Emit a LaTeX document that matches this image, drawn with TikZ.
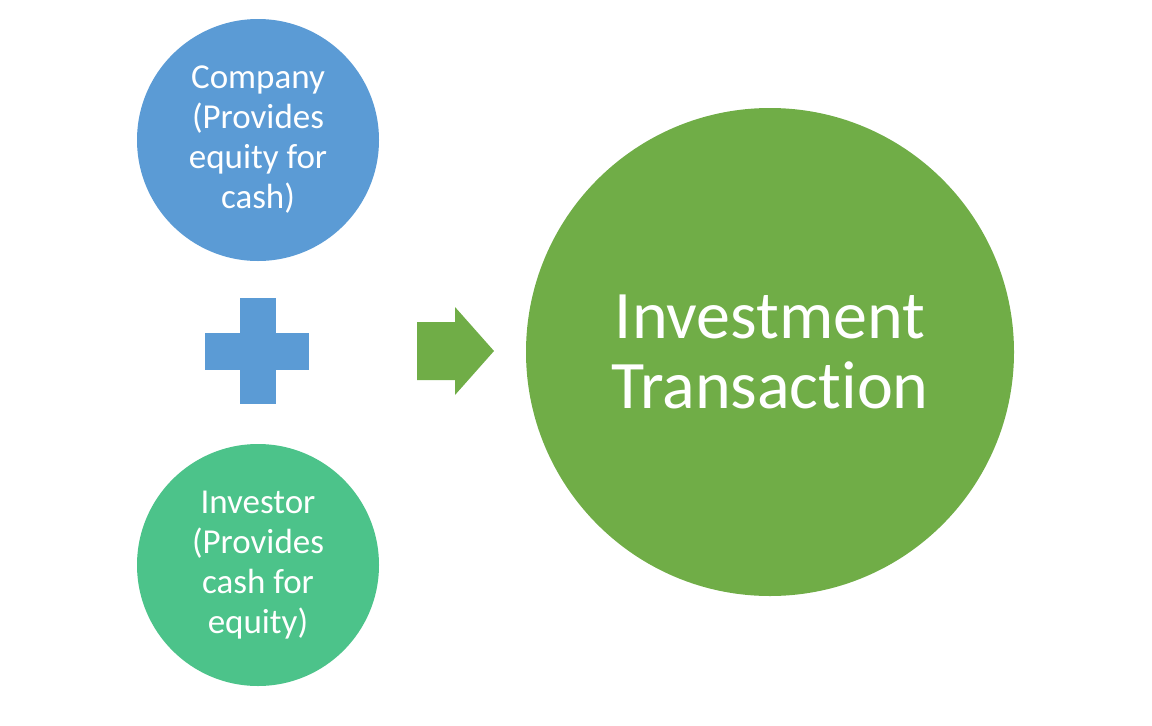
\documentclass[tikz,border=0pt]{standalone}
\usepackage{fontspec}
\setmainfont{Carlito}[Ligatures={NoCommon}]
\definecolor{cblue}{HTML}{5B9BD5}
\definecolor{cteal}{HTML}{4CC38A}
\definecolor{cgreen}{HTML}{70AD47}
\begin{document}
\begin{tikzpicture}[x=1pt,y=-1pt,
  small/.style={circle,minimum size=242pt,inner sep=0pt,text=white,align=center,font=\fontsize{35}{40}\selectfont},
  big/.style={circle,minimum size=488pt,inner sep=0pt,text=white,align=center,font=\fontsize{68}{70}\selectfont,fill=cgreen}]
\useasboundingbox (0,0) rectangle (1152,726);
\node[small,fill=cblue] (company) at (258,140) {Company\\(Provides\\equity for\\cash)};
\node[small,fill=cteal] (investor) at (258,565) {Investor\\(Provides\\cash for\\equity)};
\node[big] (tx) at (770,352) {Investment\\Transaction};
\fill[cblue] (205,333) rectangle (309,370);
\fill[cblue] (240,298) rectangle (276,404);
\fill[cgreen] (417,322) -- (455,322) -- (455,307) -- (494,351) -- (455,395) -- (455,380) -- (417,380) -- cycle;
\end{tikzpicture}
\end{document}
